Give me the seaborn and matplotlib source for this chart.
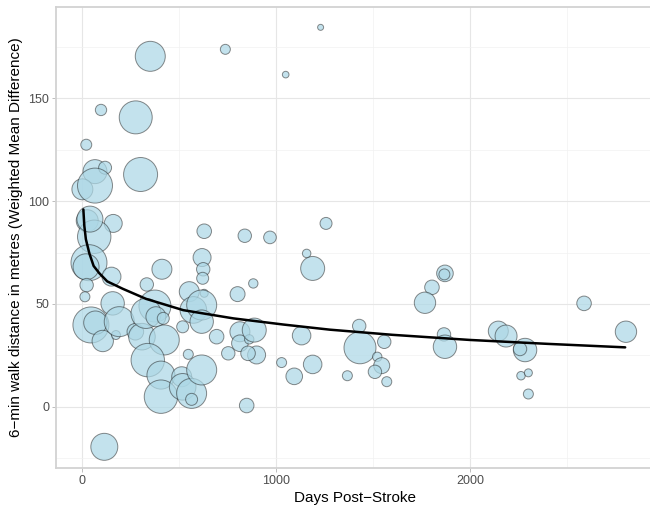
import matplotlib
matplotlib.use("Agg")
import matplotlib.pyplot as plt
import pandas as pd
import seaborn as sns
from matplotlib.colors import to_rgba
from matplotlib.ticker import MultipleLocator

# Study-level effects: time since stroke (days), 6MWT weighted mean difference (m), study weight
days = [352, 739, 1230, 1050, 98, 277, 22, 302, 67, 119,
        2, 67, 27, 161, 63, 630, 839, 969, 1258, 36,
        21, 152, 24, 15, 412, 334, 619, 625, 622, 630,
        553, 574, 617, 617, 802, 883, 158, 376, 46, 69,
        107, 175, 192, 275, 309, 330, 381, 419, 424, 339,
        407, 407, 514, 519, 565, 565, 617, 519, 548, 694,
        754, 814, 814, 862, 888, 900, 856, 849, 115, 1029,
        1094, 1189, 1189, 1158, 1132, 1368, 1429, 1433, 1558, 1522,
        1545, 1510, 1571, 1871, 1868, 1804, 1768, 1866, 1871, 2146,
        2186, 2284, 2258, 2263, 2301, 2301, 2588, 2804, 41]
wmd = [170.5, 173.9, 184.6, 161.6, 144.4, 140.8, 127.5, 113.0, 114.4, 116.3,
       105.8, 107.6, 90.5, 89.2, 82.7, 85.4, 83.2, 82.4, 89.2, 70.1,
       68.1, 63.3, 59.2, 53.5, 66.9, 59.5, 72.6, 66.9, 62.5, 55.2,
       56.0, 47.1, 49.5, 41.4, 54.8, 60.0, 50.3, 49.0, 39.8, 40.9,
       32.0, 34.9, 41.4, 36.5, 34.1, 45.4, 43.8, 43.0, 32.5, 22.7,
       15.4, 4.9, 14.6, 9.7, 6.5, 3.6, 17.9, 38.9, 25.5, 34.1,
       26.0, 36.5, 30.9, 32.8, 37.3, 25.2, 26.0, 0.6, -19.5, 21.5,
       14.8, 20.6, 67.3, 74.6, 34.6, 15.1, 39.3, 28.7, 31.6, 24.3,
       20.0, 17.0, 12.2, 64.9, 64.4, 58.1, 50.6, 35.2, 29.2, 36.8,
       34.4, 27.6, 28.1, 15.1, 16.5, 6.2, 50.3, 36.5, 91.3]
weight = [225, 25, 9, 11, 32, 272, 30, 289, 144, 42,
          110, 306, 121, 81, 279, 53, 45, 40, 36, 324,
          169, 90, 45, 25, 100, 45, 81, 45, 36, 16,
          100, 177, 225, 137, 56, 22, 137, 256, 324, 137,
          114, 20, 225, 69, 177, 225, 100, 36, 225, 279,
          196, 279, 100, 177, 225, 36, 225, 36, 25, 53,
          45, 100, 69, 22, 144, 81, 53, 53, 182, 25,
          69, 86, 144, 18, 86, 25, 45, 256, 45, 22,
          64, 45, 25, 69, 30, 53, 114, 45, 137, 100,
          121, 137, 45, 18, 16, 25, 53, 114, 169]

# Fitted trend of effect against time post-stroke
fit_days = [7, 12, 20, 38, 60, 89, 130, 210, 330, 522,
            780, 1038, 1278, 1600, 2000, 2400, 2800]
fit_wmd = [96.0, 88.0, 81.5, 74.6, 68.5, 65.0, 61.0, 57.4, 52.5, 47.0,
           43.0, 40.0, 37.5, 35.0, 32.5, 30.6, 28.9]

sns.set_theme(style="white")
plt.rcParams["font.family"] = ["Liberation Sans", "DejaVu Sans"]

df = pd.DataFrame({"days": days, "wmd": wmd, "weight": weight})
fit = pd.DataFrame({"days": fit_days, "wmd": fit_wmd})

W, H = 650, 508
fig = plt.figure(figsize=(W / 100, H / 100), dpi=100)
ax = fig.add_axes([56 / W, 40 / H, (653.5 - 56) / W, 461 / H])

# marker area: weight is squared radius in pixels -> points^2
k = 4 * (72 / 100) ** 2
w_lo, w_hi = min(weight), max(weight)
sns.scatterplot(data=df, x="days", y="wmd", size="weight",
                size_norm=(w_lo, w_hi), sizes=(k * w_lo, k * w_hi),
                color="lightblue", linewidth=0.7,
                legend=False, ax=ax, zorder=3)
bubbles = ax.collections[-1]
bubbles.set_facecolor(to_rgba("lightblue", 0.72))
bubbles.set_edgecolor((0.1, 0.1, 0.1, 0.5))

sns.lineplot(data=fit, x="days", y="wmd", color="black", linewidth=1.8,
             sort=False, ax=ax, zorder=4)

ax.set_xlim(-134, 2946)
ax.set_ylim(-29.8, 194.5)
ax.xaxis.set_major_locator(MultipleLocator(1000))
ax.xaxis.set_minor_locator(MultipleLocator(500))
ax.yaxis.set_major_locator(MultipleLocator(50))
ax.yaxis.set_minor_locator(MultipleLocator(25))
ax.set_axisbelow(True)
ax.grid(which="major", color="#E6E6E6", linewidth=0.8)
ax.grid(which="minor", color="#F1F1F1", linewidth=0.5)
for sp in ax.spines.values():
    sp.set_color("#D2D2D2")
    sp.set_linewidth(1.3)
ax.tick_params(which="major", length=2.75, width=0.6, color="#B3B3B3",
               labelsize=9, labelcolor="#4D4D4D", pad=2,
               bottom=True, left=True)
ax.tick_params(which="minor", length=0)

ax.set_xlabel("Days Post\u2212Stroke", fontsize=11, color="black", labelpad=3)
ax.set_ylabel("6\u2212min walk distance in metres (Weighted Mean Difference)",
              fontsize=11, color="black", labelpad=4)

fig.savefig("out.png", dpi=100)
